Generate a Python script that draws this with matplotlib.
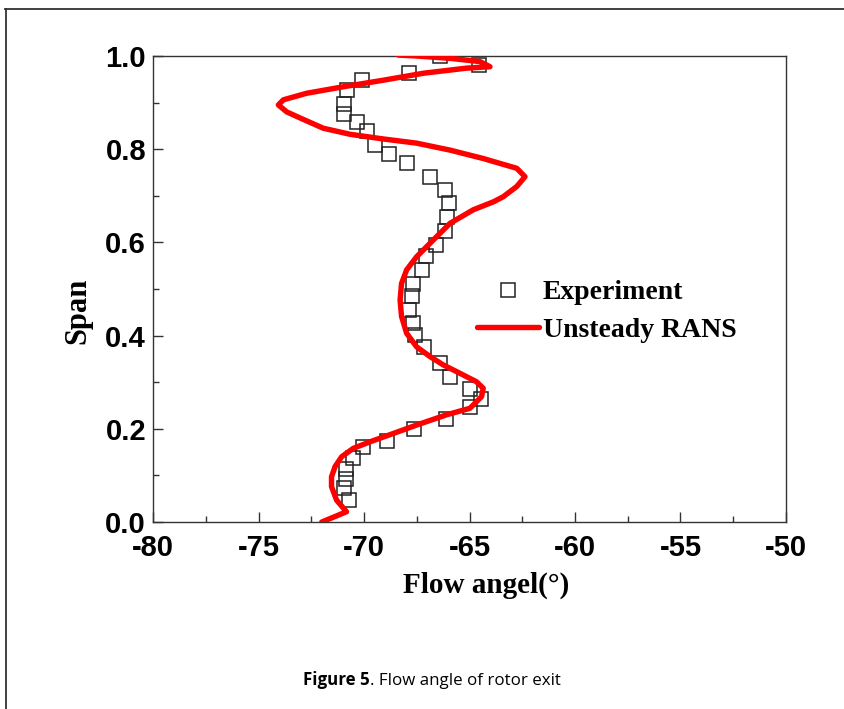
import matplotlib
matplotlib.use("Agg")
import matplotlib.pyplot as plt
from matplotlib.lines import Line2D
from matplotlib.ticker import MultipleLocator

# Measured rotor-exit flow angle (deg) against span fraction
exp_span = [1.000, 0.981, 0.964, 0.948, 0.926, 0.898, 0.876, 0.859, 0.838, 0.810,
            0.789, 0.770, 0.741, 0.712, 0.684, 0.655, 0.625, 0.594, 0.571, 0.541,
            0.510, 0.484, 0.455, 0.426, 0.401, 0.375, 0.341, 0.312, 0.285, 0.263,
            0.247, 0.220, 0.199, 0.174, 0.162, 0.137, 0.113, 0.092, 0.074, 0.047]
exp_angle = [-66.40, -64.55, -67.87, -70.08, -70.79, -70.95, -70.95, -70.35, -69.88, -69.48,
             -68.83, -67.98, -66.85, -66.16, -65.96, -66.05, -66.15, -66.60, -67.08, -67.27,
             -67.66, -67.74, -67.85, -67.66, -67.58, -67.16, -66.40, -65.92, -64.98, -64.47,
             -64.98, -66.11, -67.63, -68.92, -70.07, -70.54, -70.85, -70.85, -70.95, -70.70]

# Unsteady RANS prediction
rans_span = [0.000, 0.022, 0.047, 0.076, 0.097, 0.119, 0.140, 0.158, 0.172, 0.190,
             0.208, 0.230, 0.244, 0.269, 0.287, 0.301, 0.319, 0.337, 0.355, 0.376,
             0.405, 0.441, 0.476, 0.512, 0.541, 0.569, 0.605, 0.641, 0.670, 0.687,
             0.698, 0.720, 0.741, 0.759, 0.780, 0.798, 0.813, 0.822, 0.832, 0.845,
             0.864, 0.880, 0.895, 0.906, 0.920, 0.934, 0.948, 0.963, 0.974, 0.977,
             0.988, 0.995, 1.000, 1.002]
rans_angle = [-72.00, -70.83, -71.30, -71.54, -71.54, -71.37, -71.06, -70.51, -69.72, -68.61,
              -67.51, -66.09, -64.98, -64.43, -64.35, -64.67, -65.45, -66.24, -66.87, -67.51,
              -67.98, -68.22, -68.29, -68.22, -67.98, -67.51, -66.72, -65.92, -64.82, -63.87,
              -63.40, -62.76, -62.37, -62.76, -64.35, -65.92, -67.51, -69.09, -70.66, -71.93,
              -72.88, -73.66, -74.06, -73.82, -72.72, -70.98, -69.09, -67.19, -65.13, -64.03,
              -64.50, -65.92, -67.51, -68.37]

x_ticks = [-80, -75, -70, -65, -60, -55, -50]
y_ticks = [0.0, 0.2, 0.4, 0.6, 0.8, 1.0]

W, H = 845, 709
fig = plt.figure(figsize=(W / 100, H / 100), dpi=100)
ax = fig.add_axes([153 / W, 1 - 522 / H, (786 - 153) / W, (522 - 56) / H])

ax.plot(rans_angle, rans_span, color="#ff0000", lw=3.9, solid_capstyle="round",
        solid_joinstyle="round", label="Unsteady RANS", zorder=3)
ax.plot(exp_angle, exp_span, linestyle="none", marker="s", markersize=9.5,
        markerfacecolor="none", markeredgecolor="#222222", markeredgewidth=1.1,
        label="Experiment", zorder=2)

ax.set_xlim(-80, -50)
ax.set_ylim(0.0, 1.0)
ax.set_xticks(x_ticks)
ax.set_yticks(y_ticks)
ax.set_xticklabels([f"{v:d}" for v in x_ticks])
ax.set_yticklabels([f"{v:.1f}" for v in y_ticks])
ax.xaxis.set_minor_locator(MultipleLocator(2.5))
ax.yaxis.set_minor_locator(MultipleLocator(0.1))
ax.tick_params(which="both", direction="in", top=False, right=False, color="#333333", width=1)
ax.tick_params(which="major", length=7)
ax.tick_params(which="minor", length=4)
ax.tick_params(axis="x", which="major", pad=9)
ax.tick_params(axis="y", which="major", pad=5)
for lab in ax.get_xticklabels() + ax.get_yticklabels():
    lab.set_fontfamily("Liberation Sans")
    lab.set_fontweight("bold")
    lab.set_fontsize(21)
for sp in ax.spines.values():
    sp.set_color("#333333")
    sp.set_linewidth(1.0)

serif = dict(family="Liberation Serif", weight="bold")
ax.set_xlabel("Flow angel(°)", fontsize=21, **serif)
ax.xaxis.set_label_coords((486 - 153) / 633, -(585 - 522) / 466)
ax.xaxis.label.set_va("center")
ax.set_ylabel("Span", fontsize=22, **serif)
ax.yaxis.set_label_coords((78 - 153) / 633, (522 - 311) / 466)
ax.yaxis.label.set_va("center")

handles, labels = ax.get_legend_handles_labels()
order = [1, 0]
ax.legend([handles[i] for i in order], [labels[i] for i in order],
          loc="upper left", bbox_to_anchor=((477 - 153) / 633, (522 - 280) / 466),
          frameon=False, borderpad=0, borderaxespad=0, handlelength=2.25,
          handletextpad=0.12, labelspacing=0.42,
          prop=dict(family="Liberation Serif", weight="bold", size=20))

# Page frame around the figure
frame_kw = dict(color="#333333", lw=1.3, transform=None)
fig.add_artist(Line2D([5.5, 5.5], [0, H - 9], **frame_kw))
fig.add_artist(Line2D([5, W], [H - 9, H - 9], **frame_kw))

# Caption: bold figure number followed by regular text
cap_y = 1 - 685 / H
t1 = fig.text(303 / W, cap_y, "Figure 5", family="Open Sans", weight="bold",
              fontsize=12.2, va="baseline", ha="left")
fig.canvas.draw()
bb = t1.get_window_extent()
fig.text(bb.x1 / W, cap_y, ". Flow angle of rotor exit", family="Open Sans",
         fontsize=12.2, va="baseline", ha="left")

fig.savefig("out.png", dpi=100)
